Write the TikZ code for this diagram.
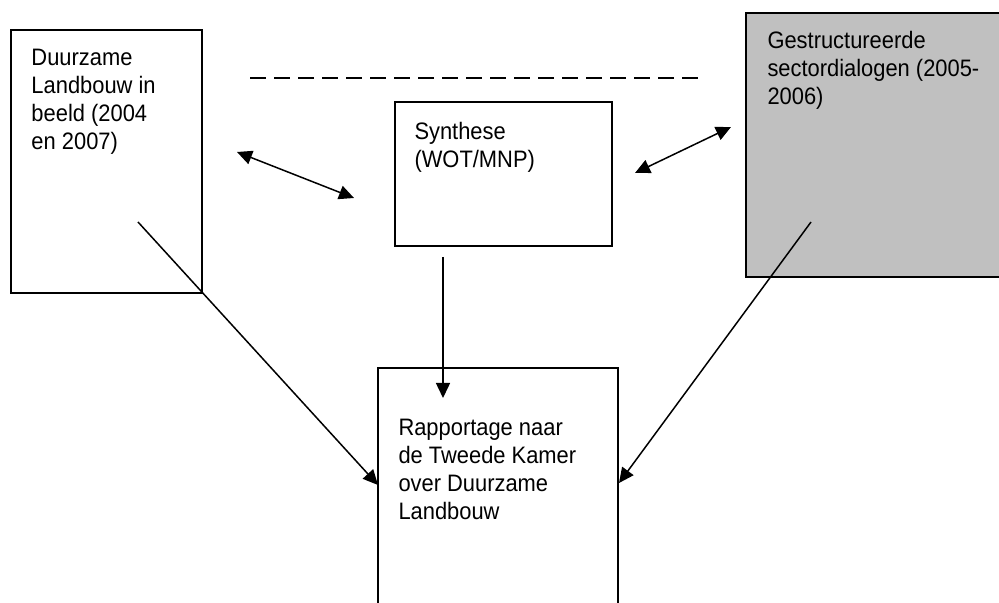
\documentclass[tikz,border=0pt]{standalone}
\usepackage{fontspec}
\setmainfont{Liberation Sans}
\newfontfamily\smalschrift[FakeStretch=0.92]{Liberation Sans}
\usepackage{tikz}
\usetikzlibrary{arrows.meta,positioning}
\usepackage{xcolor}
\definecolor{vakgrijs}{RGB}{192,192,192}
\tikzstyle{pijl} = [line width=0.75pt,-{Triangle[length=7.5pt,width=7pt]}]
\tikzstyle{dubbelpijl} = [line width=0.75pt,{Triangle[length=7.5pt,width=7pt]}-{Triangle[length=7.5pt,width=7pt]}]
\tikzstyle{kader} = [rectangle, draw=black, line width=0.9pt, fill=white, inner sep=0pt]
\tikzstyle{tekst} = [anchor=north west, inner sep=0pt, align=left, font=\smalschrift\fontsize{11.9}{14}\selectfont]

\begin{document}
\begin{tikzpicture}[x=0.5pt, y=-0.5pt]
\clip (0,0) rectangle (999,603);
\fill[white] (0,0) rectangle (999,603);

% Vier kaders
\node[kader, minimum width=95.5pt, minimum height=131.5pt,
  label={[tekst, xshift=10.5pt, yshift=-10pt]north west:Duurzame\\Landbouw in\\beeld (2004\\en 2007)}] (duurzaam) at (106.5,161.5) {};
\node[kader, minimum width=108.5pt, minimum height=72pt,
  label={[tekst, xshift=10pt, yshift=-10.5pt]north west:Synthese\\(WOT/MNP)}] (synthese) at (503.5,174) {};
\node[kader, fill=vakgrijs, minimum width=132pt, minimum height=132pt,
  label={[tekst, xshift=11pt, yshift=-9.5pt]north west:Gestructureerde\\sectordialogen (2005-\\2006)}] (dialoog) at (878,145) {};
\node[kader, minimum width=120pt, minimum height=146pt,
  label={[tekst, xshift=10.5pt, yshift=-26pt]north west:Rapportage naar\\de Tweede Kamer\\over Duurzame\\Landbouw}] (rapport) at (498,514) {};

% Losse eindpunten
\coordinate (streep-a) at (250,78);
\coordinate (streep-b) at (705,78);
\coordinate (links-a) at (237,152);
\coordinate (links-b) at (354,198);
\coordinate (rechts-a) at (635,173);
\coordinate (rechts-b) at (731,127);
\coordinate (midden-a) at (443,257);
\coordinate (midden-b) at (443,398);
\coordinate (diag-la) at (138,222);
\coordinate (diag-lb) at (378,485);
\coordinate (diag-ra) at (811,222);
\coordinate (diag-rb) at (619,483);

% Pijlen
\draw[line width=0.75pt, dash pattern=on 8pt off 4pt] (streep-a) -- (streep-b);
\draw[dubbelpijl] (links-a) -- (links-b);
\draw[dubbelpijl] (rechts-a) -- (rechts-b);
\draw[pijl] (midden-a) -- (midden-b);
\draw[pijl] (diag-la) -- (diag-lb);
\draw[pijl] (diag-ra) -- (diag-rb);
\end{tikzpicture}
\end{document}
